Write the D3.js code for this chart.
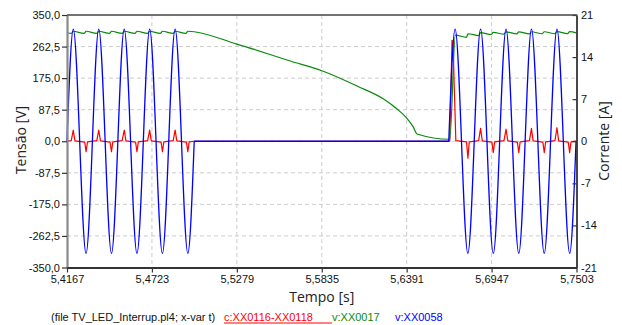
<!DOCTYPE html>
<html><head><meta charset="utf-8">
<script src="https://cdn.jsdelivr.net/npm/d3@7/dist/d3.min.js"></script>
<style>
html,body{margin:0;padding:0;background:#fff;}
svg{display:block;}
</style></head>
<body>
<svg id="chart" width="622" height="325"></svg>
<script>
// ---------- DATA ----------
const xTicks = [5.4167, 5.4723, 5.5279, 5.5835, 5.6391, 5.6947, 5.7503];
const leftTicks = [-350, -262.5, -175, -87.5, 0, 87.5, 175, 262.5, 350];
const rightTicks = [-21, -14, -7, 0, 7, 14, 21];

const xTitle = "Tempo [s]";
const yLeftTitle = "Tensão [V]";
const yRightTitle = "Corrente [A]";
const fileNote = "(file TV_LED_Interrup.pl4; x-var t)";
const seriesNames = ["c:XX0116-XX0118", "v:XX0017", "v:XX0058"];

// v:XX0058 (supply voltage) – before interruption
const blueT1 = [5.41667,5.42083,5.42500,5.42917,5.43333,5.43750,5.44167,5.44583,5.45000,5.45417,5.45833,
                5.46250,5.46667,5.47083,5.47500,5.47917,5.48333,5.48750,5.49167,5.49583,5.50000];
const blueV1 = [0,311,0,-311,0,311,0,-311,0,311,0,-311,0,311,0,-311,0,311,0,-311,0];
// interruption
const blueT0 = [5.50000, 5.66667];
const blueV0 = [0, 0];
// after reconnection
const blueT2 = [5.66667,5.67083,5.67500,5.67917,5.68333,5.68750,5.69167,5.69583,5.70000,5.70417,5.70833,
                5.71250,5.71667,5.72083,5.72500,5.72917,5.73333,5.73750,5.74167,5.74583,5.75000];
const blueV2 = [0,311,0,-311,0,311,0,-311,0,311,0,-311,0,311,0,-311,0,311,0,-311,0];

// c:XX0116-XX0118 (current, right axis)
const redT = [5.4167,5.4195,5.4208,5.4219,5.4283,5.4292,5.4301,5.4362,5.4375,5.4386,5.4449,5.4458,5.4467,
              5.4528,5.4542,5.4553,5.4616,5.4625,5.4634,5.4695,5.4708,5.4719,5.4783,5.4792,5.4801,
              5.4862,5.4875,5.4886,5.4949,5.4958,5.4967,5.5000,5.6673,
              5.6688,5.6694,5.6713,5.6783,5.6792,5.6801,5.6862,5.6875,5.6886,5.6949,5.6958,5.6967,
              5.7028,5.7042,5.7053,5.7116,5.7125,5.7134,5.7195,5.7208,5.7219,5.7283,5.7292,5.7301,
              5.7362,5.7375,5.7386,5.7449,5.7458,5.7467,5.7503];
const redV = [0.05,0.1,1.85,0.05,-0.15,-1.75,-0.1,0.1,1.85,0.05,-0.15,-1.75,-0.1,
              0.1,1.85,0.05,-0.15,-1.75,-0.1,0.1,1.85,0.05,-0.15,-1.75,-0.1,
              0.1,1.85,0.05,-0.15,-1.75,-0.1,0,0,
              16.8,16.6,0.1,-0.1,-2.8,-0.1,0.1,2.15,0.05,-0.15,-1.9,-0.1,
              0.1,2.0,0.05,-0.15,-1.9,-0.1,0.1,2.15,0.05,-0.15,-1.9,-0.1,
              0.1,2.25,0.05,-0.15,-1.9,-0.1,0.05];

// v:XX0017 (capacitor voltage, left axis)
const greenT = [5.4167,5.4195,5.4208,5.4279,5.4292,5.4362,5.4375,5.4445,5.4458,5.4528,5.4542,5.4612,5.4625,
                5.4695,5.4708,5.4778,5.4792,5.4862,5.4875,5.4945,5.4958,
                5.5279,5.5629,5.5836,5.6066,5.6240,5.6328,5.6393,5.6433,5.6459,5.6673,
                5.6710,5.6783,5.6792,5.6862,5.6875,5.6945,5.6958,5.7028,5.7042,5.7112,5.7125,
                5.7195,5.7208,5.7278,5.7292,5.7362,5.7375,5.7445,5.7458,5.7503];
const greenV = [301.5,299,305,299,305,299,305,299,305,299,305,299,305,
                299,305,299,305,299,305,299,305,
                269.4,222.4,195.5,153.1,117.1,89.4,63.7,40.4,20.2,5.5,
                294,288,298,293,301,296,302,297,303,297.5,303,
                297.5,303.5,298,303.5,298,304,298.5,304,300.5];

// ---------- STYLE / LAYOUT ----------
const colors = {red: "#ff0000", green: "#0a8a0a", blue: "#0000ff"};
const W = 622, H = 325;
const L = 67, R = 576.5, T = 15, B = 267.5;

const svg = d3.select("#chart");
const tickFont = "'Liberation Sans', Arial, sans-serif";
const titleFont = "'Open Sans', 'Noto Sans', sans-serif";

const x = d3.scaleLinear().domain([xTicks[0], xTicks[xTicks.length-1]]).range([L, R]);
const yL = d3.scaleLinear().domain([leftTicks[0], leftTicks[leftTicks.length-1]]).range([B, T]);
const yR = d3.scaleLinear().domain([rightTicks[0], rightTicks[rightTicks.length-1]]).range([B, T]);

const loc = d3.formatLocale({decimal: ",", thousands: ".", grouping: [3], currency: ["", ""], minus: "-"});
const fmtL = loc.format(".1f");
const fmtX = loc.format(".4f");
const fmtR = loc.format("d");

// grid
const grid = svg.append("g").attr("stroke", "#cccccc").attr("stroke-width", 1).attr("stroke-dasharray", "4,3");
xTicks.slice(1, -1).forEach(v => {
  grid.append("line").attr("x1", x(v)).attr("x2", x(v)).attr("y1", T).attr("y2", B);
});
leftTicks.slice(1, -1).forEach(v => {
  grid.append("line").attr("x1", L).attr("x2", R).attr("y1", yL(v)).attr("y2", yL(v));
});

// series
const zip = (ts, vs) => ts.map((t, i) => ({t, v: vs[i]}));
const lineR = d3.line().x(d => x(d.t)).y(d => yR(d.v));
const lineL = d3.line().x(d => x(d.t)).y(d => yL(d.v));
const lineLsine = d3.line().x(d => x(d.t)).y(d => yL(d.v)).curve(d3.curveNatural);
const lineLgreen = d3.line().x(d => x(d.t)).y(d => yL(d.v)).curve(d3.curveMonotoneX);

const plot = svg.append("g").attr("fill", "none").attr("stroke-linejoin", "round");
plot.append("path").attr("d", lineR(zip(redT, redV))).attr("stroke", colors.red).attr("stroke-width", 1.2);
plot.append("path").attr("d", lineLgreen(zip(greenT, greenV))).attr("stroke", colors.green).attr("stroke-width", 1.2);
plot.append("path").attr("d", lineLsine(zip(blueT1, blueV1))).attr("stroke", colors.blue).attr("stroke-width", 1.3);
plot.append("path").attr("d", lineL(zip(blueT0, blueV0))).attr("stroke", colors.blue).attr("stroke-width", 1.3);
plot.append("path").attr("d", lineLsine(zip(blueT2, blueV2))).attr("stroke", colors.blue).attr("stroke-width", 1.3);

// axes
const gL = svg.append("g").attr("transform", `translate(${L},0)`)
  .call(d3.axisLeft(yL).tickValues(leftTicks).tickFormat(fmtL).tickSize(5).tickSizeOuter(0).tickPadding(2));
gL.select(".domain").attr("stroke", "#8a8a8a").attr("stroke-width", 2.2);
const gB = svg.append("g").attr("transform", `translate(0,${B})`)
  .call(d3.axisBottom(x).tickValues(xTicks).tickFormat(fmtX).tickSize(5).tickSizeOuter(0).tickPadding(2.5));
gB.select(".domain").attr("stroke", "#333").attr("stroke-width", 1.8);
const gR = svg.append("g").attr("transform", `translate(${R},0)`)
  .call(d3.axisRight(yR).tickValues(rightTicks).tickFormat(fmtR).tickSize(-4).tickSizeOuter(0).tickPadding(4.5));
gR.select(".domain").attr("stroke", "#333").attr("stroke-width", 1.8);
svg.append("line").attr("x1", L).attr("x2", R + 0.9).attr("y1", T).attr("y2", T)
  .attr("stroke", "#444").attr("stroke-width", 1.5);

[gL, gB, gR].forEach(g => {
  g.selectAll(".tick line").attr("stroke", "#333").attr("stroke-width", 1.2);
  g.selectAll("text").attr("font-family", tickFont).attr("font-size", 11).attr("fill", "#111");
});

// titles
svg.append("text").attr("x", (L + R) / 2).attr("y", 302).attr("text-anchor", "middle")
  .attr("font-family", titleFont).attr("font-size", 14).attr("fill", "#222").text(xTitle);
svg.append("text").attr("transform", `translate(25.5,140) rotate(-90)`).attr("text-anchor", "middle")
  .attr("font-family", titleFont).attr("font-size", 14).attr("fill", "#222").text(yLeftTitle);
svg.append("text").attr("transform", `translate(609,141) rotate(-90)`).attr("text-anchor", "middle")
  .attr("font-family", titleFont).attr("font-size", 14).attr("fill", "#222").text(yRightTitle);

// legend
const legY = 320.5;
const leg = svg.append("g").attr("font-family", tickFont).attr("font-size", 11);
leg.append("text").attr("x", 51).attr("y", legY).attr("fill", "#111").text(fileNote);
const legX = [224, 332, 395];
const legC = [colors.red, colors.green, colors.blue];
seriesNames.forEach((n, i) => {
  leg.append("text").attr("x", legX[i]).attr("y", legY).attr("fill", legC[i]).text(n);
});
leg.append("line").attr("x1", legX[0]).attr("x2", legX[1]).attr("y1", legY + 2.5).attr("y2", legY + 2.5)
  .attr("stroke", colors.red).attr("stroke-width", 1);
</script>
</body></html>
